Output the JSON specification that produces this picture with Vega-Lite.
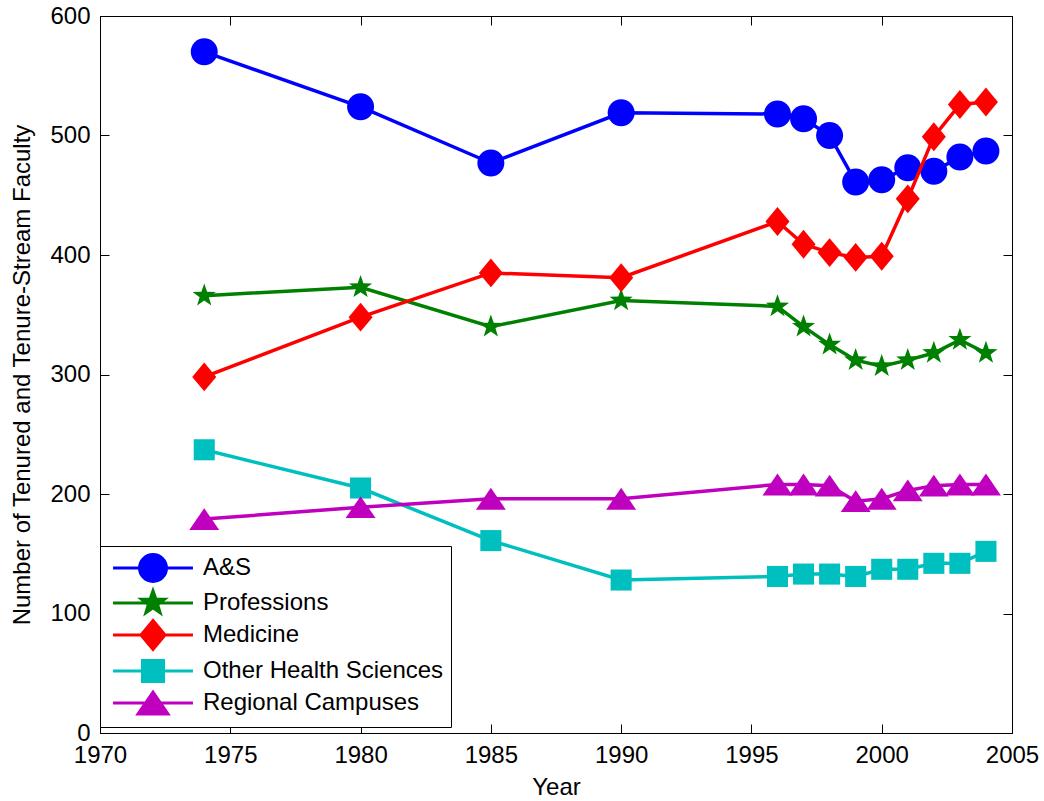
{
  "$schema": "https://vega.github.io/schema/vega-lite/v6.json",
  "width": 912,
  "height": 717,
  "autosize": "none",
  "padding": {"left": 100, "top": 16, "right": 32, "bottom": 68},
  "background": "white",
  "data": {"values": [
    {"series": "A&S", "year": 1974, "value": 570},
    {"series": "A&S", "year": 1980, "value": 524},
    {"series": "A&S", "year": 1985, "value": 477},
    {"series": "A&S", "year": 1990, "value": 519},
    {"series": "A&S", "year": 1996, "value": 518},
    {"series": "A&S", "year": 1997, "value": 514},
    {"series": "A&S", "year": 1998, "value": 500},
    {"series": "A&S", "year": 1999, "value": 461},
    {"series": "A&S", "year": 2000, "value": 463},
    {"series": "A&S", "year": 2001, "value": 473},
    {"series": "A&S", "year": 2002, "value": 470},
    {"series": "A&S", "year": 2003, "value": 482},
    {"series": "A&S", "year": 2004, "value": 487},
    {"series": "Professions", "year": 1974, "value": 366},
    {"series": "Professions", "year": 1980, "value": 373},
    {"series": "Professions", "year": 1985, "value": 340},
    {"series": "Professions", "year": 1990, "value": 362},
    {"series": "Professions", "year": 1996, "value": 357},
    {"series": "Professions", "year": 1997, "value": 340},
    {"series": "Professions", "year": 1998, "value": 325},
    {"series": "Professions", "year": 1999, "value": 312},
    {"series": "Professions", "year": 2000, "value": 307},
    {"series": "Professions", "year": 2001, "value": 312},
    {"series": "Professions", "year": 2002, "value": 318},
    {"series": "Professions", "year": 2003, "value": 329},
    {"series": "Professions", "year": 2004, "value": 318},
    {"series": "Medicine", "year": 1974, "value": 298},
    {"series": "Medicine", "year": 1980, "value": 348},
    {"series": "Medicine", "year": 1985, "value": 385},
    {"series": "Medicine", "year": 1990, "value": 381},
    {"series": "Medicine", "year": 1996, "value": 428},
    {"series": "Medicine", "year": 1997, "value": 409},
    {"series": "Medicine", "year": 1998, "value": 402},
    {"series": "Medicine", "year": 1999, "value": 398},
    {"series": "Medicine", "year": 2000, "value": 399},
    {"series": "Medicine", "year": 2001, "value": 447},
    {"series": "Medicine", "year": 2002, "value": 499},
    {"series": "Medicine", "year": 2003, "value": 526},
    {"series": "Medicine", "year": 2004, "value": 528},
    {"series": "Other Health Sciences", "year": 1974, "value": 237},
    {"series": "Other Health Sciences", "year": 1980, "value": 205},
    {"series": "Other Health Sciences", "year": 1985, "value": 161},
    {"series": "Other Health Sciences", "year": 1990, "value": 128},
    {"series": "Other Health Sciences", "year": 1996, "value": 131},
    {"series": "Other Health Sciences", "year": 1997, "value": 133},
    {"series": "Other Health Sciences", "year": 1998, "value": 133},
    {"series": "Other Health Sciences", "year": 1999, "value": 131},
    {"series": "Other Health Sciences", "year": 2000, "value": 137},
    {"series": "Other Health Sciences", "year": 2001, "value": 137},
    {"series": "Other Health Sciences", "year": 2002, "value": 142},
    {"series": "Other Health Sciences", "year": 2003, "value": 142},
    {"series": "Other Health Sciences", "year": 2004, "value": 152},
    {"series": "Regional Campuses", "year": 1974, "value": 179},
    {"series": "Regional Campuses", "year": 1980, "value": 189},
    {"series": "Regional Campuses", "year": 1985, "value": 196},
    {"series": "Regional Campuses", "year": 1990, "value": 196},
    {"series": "Regional Campuses", "year": 1996, "value": 208},
    {"series": "Regional Campuses", "year": 1997, "value": 208},
    {"series": "Regional Campuses", "year": 1998, "value": 207},
    {"series": "Regional Campuses", "year": 1999, "value": 194},
    {"series": "Regional Campuses", "year": 2000, "value": 196},
    {"series": "Regional Campuses", "year": 2001, "value": 203},
    {"series": "Regional Campuses", "year": 2002, "value": 207},
    {"series": "Regional Campuses", "year": 2003, "value": 208},
    {"series": "Regional Campuses", "year": 2004, "value": 208}
  ]},
  "layer": [
    {
      "transform": [{"filter": "datum.series === 'A&S'"}],
      "mark": {"type": "line", "strokeWidth": 3.5},
      "encoding": {
        "x": {"field": "year", "type": "quantitative",
              "scale": {"domain": [1970, 2005], "nice": false, "zero": false},
              "axis": {"orient": "bottom", "title": "Year", "values": [1970, 1975, 1980, 1985, 1990, 1995, 2000, 2005], "format": "d", "labelFlush": false, "labelOverlap": false, "labelPadding": 19, "titlePadding": 8}},
        "y": {"field": "value", "type": "quantitative",
              "scale": {"domain": [0, 600], "nice": false},
              "axis": {"orient": "left", "title": "Number of Tenured and Tenure-Stream Faculty", "values": [0, 100, 200, 300, 400, 500, 600], "format": "d", "labelFlush": false, "labelOverlap": false, "labelPadding": 19, "titlePadding": 15}},
        "color": {"field": "series", "type": "nominal",
                  "scale": {"domain": ["A&S", "Professions", "Medicine", "Other Health Sciences", "Regional Campuses"],
                            "range": ["#0000FF", "#008000", "#FF0000", "#00BFBF", "#BF00BF"]},
                  "legend": {
                    "title": null, "orient": "none", "legendX": 0, "legendY": 530, "direction": "vertical",
                    "symbolSize": 729, "symbolStrokeWidth": 3, "symbolOffset": 31, "labelOffset": 35,
                    "labelFontSize": 24, "labelFont": "Liberation Sans", "labelColor": "black", "labelLimit": 400,
                    "padding": 7, "rowPadding": -5, "strokeColor": "black", "fillColor": "white", "cornerRadius": 0,
                    "encode": {"symbols": {"update": {
                      "shape": {"signal": "datum.value === 'A&S' ? 'M-2.96,0H2.96M1,0A1,1,0,1,1,-1,0A1,1,0,1,1,1,0Z' : datum.value === 'Professions' ? 'M-2.96,0H2.96M0,-0.9L0.212,-0.291L0.856,-0.278L0.342,0.111L0.529,0.728L0,0.36L-0.529,0.728L-0.342,0.111L-0.856,-0.278L-0.212,-0.291Z' : datum.value === 'Medicine' ? 'M-2.96,0H2.96M0,-1.07L0.89,0L0,1.07L-0.89,0Z' : datum.value === 'Other Health Sciences' ? 'M-2.96,0H2.96M-0.78,-0.78H0.78V0.78H-0.78Z' : 'M-2.96,0H2.96M0,-0.81L1.11,0.81L-1.11,0.81Z'"},
                      "fill": {"scale": "color", "field": "value"},
                      "stroke": {"scale": "color", "field": "value"},
                      "strokeWidth": {"value": 3},
                      "opacity": {"value": 1}
                    }}}
                  }}
      }
    },
    {
      "transform": [{"filter": "datum.series === 'A&S'"}],
      "mark": {"type": "point", "filled": true, "opacity": 1, "size": 729, "shape": "M1,0A1,1,0,1,1,-1,0A1,1,0,1,1,1,0Z"},
      "encoding": {
        "x": {"field": "year", "type": "quantitative",
              "axis": {"orient": "top", "title": null, "labels": false, "values": [1970, 1975, 1980, 1985, 1990, 1995, 2000, 2005]}},
        "y": {"field": "value", "type": "quantitative",
              "axis": {"orient": "right", "title": null, "labels": false, "values": [0, 100, 200, 300, 400, 500, 600]}},
        "color": {"field": "series", "type": "nominal"}
      }
    },
    {
      "transform": [{"filter": "datum.series === 'Professions'"}],
      "mark": {"type": "line", "strokeWidth": 3.5},
      "encoding": {
        "x": {"field": "year", "type": "quantitative", "axis": null},
        "y": {"field": "value", "type": "quantitative", "axis": null},
        "color": {"field": "series", "type": "nominal"}
      }
    },
    {
      "transform": [{"filter": "datum.series === 'Professions'"}],
      "mark": {"type": "point", "filled": true, "opacity": 1, "size": 729, "shape": "M0,-0.9L0.212,-0.291L0.856,-0.278L0.342,0.111L0.529,0.728L0,0.36L-0.529,0.728L-0.342,0.111L-0.856,-0.278L-0.212,-0.291Z"},
      "encoding": {
        "x": {"field": "year", "type": "quantitative", "axis": null},
        "y": {"field": "value", "type": "quantitative", "axis": null},
        "color": {"field": "series", "type": "nominal"}
      }
    },
    {
      "transform": [{"filter": "datum.series === 'Medicine'"}],
      "mark": {"type": "line", "strokeWidth": 3.5},
      "encoding": {
        "x": {"field": "year", "type": "quantitative", "axis": null},
        "y": {"field": "value", "type": "quantitative", "axis": null},
        "color": {"field": "series", "type": "nominal"}
      }
    },
    {
      "transform": [{"filter": "datum.series === 'Medicine'"}],
      "mark": {"type": "point", "filled": true, "opacity": 1, "size": 729, "shape": "M0,-1.07L0.89,0L0,1.07L-0.89,0Z"},
      "encoding": {
        "x": {"field": "year", "type": "quantitative", "axis": null},
        "y": {"field": "value", "type": "quantitative", "axis": null},
        "color": {"field": "series", "type": "nominal"}
      }
    },
    {
      "transform": [{"filter": "datum.series === 'Other Health Sciences'"}],
      "mark": {"type": "line", "strokeWidth": 3.5},
      "encoding": {
        "x": {"field": "year", "type": "quantitative", "axis": null},
        "y": {"field": "value", "type": "quantitative", "axis": null},
        "color": {"field": "series", "type": "nominal"}
      }
    },
    {
      "transform": [{"filter": "datum.series === 'Other Health Sciences'"}],
      "mark": {"type": "point", "filled": true, "opacity": 1, "size": 729, "shape": "M-0.78,-0.78H0.78V0.78H-0.78Z"},
      "encoding": {
        "x": {"field": "year", "type": "quantitative", "axis": null},
        "y": {"field": "value", "type": "quantitative", "axis": null},
        "color": {"field": "series", "type": "nominal"}
      }
    },
    {
      "transform": [{"filter": "datum.series === 'Regional Campuses'"}],
      "mark": {"type": "line", "strokeWidth": 3.5},
      "encoding": {
        "x": {"field": "year", "type": "quantitative", "axis": null},
        "y": {"field": "value", "type": "quantitative", "axis": null},
        "color": {"field": "series", "type": "nominal"}
      }
    },
    {
      "transform": [{"filter": "datum.series === 'Regional Campuses'"}],
      "mark": {"type": "point", "filled": true, "opacity": 1, "size": 729, "shape": "M0,-0.81L1.11,0.81L-1.11,0.81Z"},
      "encoding": {
        "x": {"field": "year", "type": "quantitative", "axis": null},
        "y": {"field": "value", "type": "quantitative", "axis": null},
        "color": {"field": "series", "type": "nominal"}
      }
    }
  ],
  "resolve": {"axis": {"x": "independent", "y": "independent"}},
  "config": {
    "font": "Liberation Sans",
    "view": {"stroke": "black", "strokeWidth": 1},
    "axis": {
      "grid": false,
      "domainColor": "black", "domainWidth": 1,
      "tickColor": "black", "tickSize": -9, "tickWidth": 1,
      "labelFont": "Liberation Sans", "labelFontSize": 24, "labelColor": "black",
      "titleFont": "Liberation Sans", "titleFontSize": 24, "titleFontWeight": "normal", "titleColor": "black"
    }
  }
}
